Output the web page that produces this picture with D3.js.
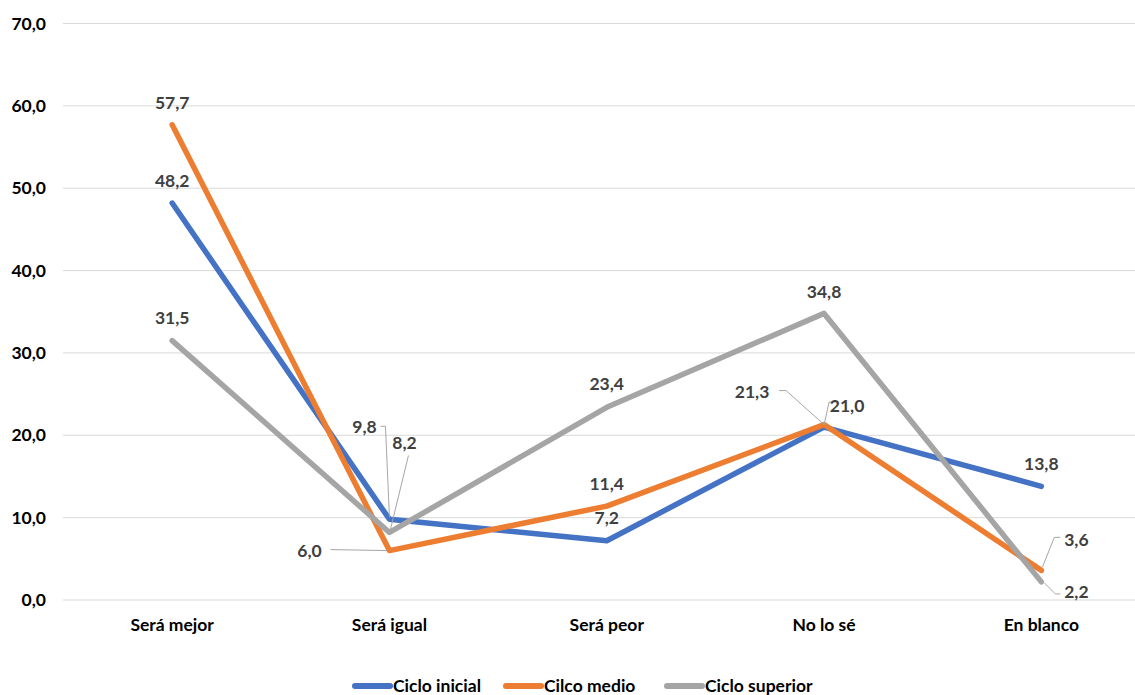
<!DOCTYPE html>
<html><head><meta charset="utf-8">
<script src="https://cdn.jsdelivr.net/npm/d3@7"></script>
<style>body{margin:0;background:#fff}svg{display:block}text{font-family:Lato,"Open Sans",sans-serif;font-weight:bold}</style>
</head><body><svg id="c" width="1135" height="695"></svg>
<script>
const categories = ["Será mejor","Será igual","Será peor","No lo sé","En blanco"];
const seriesNames = ["Ciclo inicial","Cilco medio","Ciclo superior"];
const cicloInicial = [48.2, 9.8, 7.2, 21.0, 13.8];
const cilcoMedio = [57.7, 6.0, 11.4, 21.3, 3.6];
const cicloSuperior = [31.5, 8.2, 23.4, 34.8, 2.2];
const yTicks = [0,10,20,30,40,50,60,70];

const colors = ["#4472C4","#ED7D31","#A5A5A5"];
const seriesVals = [cicloInicial, cilcoMedio, cicloSuperior];
// label placement: [dx, dy, leader polyline offsets relative to the point]
const labelPos = [
  [[0,-22],[-25,-92,[[-9,-93],[-4,-93],[0,-2]]],[0,-23],[23,-21,[[13,-25],[5,-25],[0,-2]]],[0,-22]],
  [[0,-22],[-80,0,[[-59,-1],[-2,0]]],[0,-22],[-72,-33,[[-45,-34],[-38,-34],[0,0]]],[35,-30,[[19,-33],[13,-33],[1,-3]]]],
  [[0,-23],[15,-90,[[19,-77],[1,-3]]],[0,-23],[0,-22],[35,10,[[3,1],[14,12],[19,12]]]]
];

const FS = 17.5;
const svg = d3.select("#c");
const x = d3.scaleBand().domain(categories).range([63.5,1150]);
const y = d3.scaleLinear().domain([0,70]).range([600,23.5]);
const fmt = v => d3.format(".1f")(v).replace(".", ",");

// gridlines
svg.append("g").selectAll("line").data(yTicks).join("line")
  .attr("x1",63).attr("x2",1150).attr("y1",d=>y(d)).attr("y2",d=>y(d))
  .attr("stroke","#D9D9D9").attr("stroke-width",1);

// y axis labels
svg.append("g").selectAll("text").data(yTicks).join("text")
  .attr("x",46).attr("y",d=>y(d)).attr("dy","0.35em").attr("text-anchor","end")
  .attr("font-size",FS).attr("fill","#000").text(fmt);

// x labels
svg.append("g").selectAll("text").data(categories).join("text")
  .attr("x",d=>x(d)+x.bandwidth()/2).attr("y",625).attr("dy","0.35em").attr("text-anchor","middle")
  .attr("font-size",FS).attr("fill","#000").text(d=>d);

const cx = c => x(c)+x.bandwidth()/2;
const line = d3.line().x((d,i)=>cx(categories[i])).y(d=>y(d));

seriesVals.forEach((vals,si)=>{
  svg.append("path").datum(vals).attr("d",line).attr("fill","none")
    .attr("stroke",colors[si]).attr("stroke-width",5.5)
    .attr("stroke-linejoin","round").attr("stroke-linecap","round");
});

// leader lines + labels
seriesVals.forEach((vals,si)=>{
  vals.forEach((v,i)=>{
    const px = cx(categories[i]), py = y(v);
    const lp = labelPos[si][i];
    if (lp[2]) {
      svg.append("polyline")
        .attr("points", lp[2].map(p=>[px+p[0],py+p[1]].join(",")).join(" "))
        .attr("fill","none").attr("stroke","#A6A6A6").attr("stroke-width",1);
    }
    svg.append("text").attr("x",px+lp[0]).attr("y",py+lp[1]).attr("dy","0.35em")
      .attr("text-anchor","middle").attr("font-size",FS).attr("fill","#404040").text(fmt(v));
  });
});

// legend
const legendX = [352, 503, 664];
const lg = svg.append("g");
seriesNames.forEach((n,i)=>{
  lg.append("line").attr("x1",legendX[i]+3).attr("x2",legendX[i]+38).attr("y1",686).attr("y2",686)
    .attr("stroke",colors[i]).attr("stroke-width",6).attr("stroke-linecap","round");
  lg.append("text").attr("x",legendX[i]+41).attr("y",686).attr("dy","0.33em")
    .attr("font-size",FS).attr("fill","#000").text(n);
});
</script></body></html>
